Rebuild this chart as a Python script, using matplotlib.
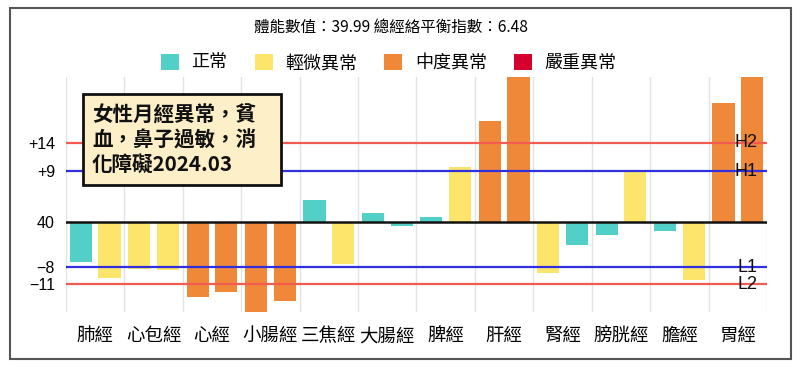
import numpy as np
import matplotlib
matplotlib.use("Agg")
import matplotlib.pyplot as plt
from matplotlib.patches import Patch, Rectangle

plt.rcParams['font.family'] = ['Noto Sans CJK TC', 'DejaVu Sans']
plt.rcParams['axes.unicode_minus'] = True

# 經絡名稱
meridians = ['肺經', '心包經', '心經', '小腸經', '三焦經', '大腸經',
             '脾經', '肝經', '腎經', '膀胱經', '膽經', '胃經']

# 左右兩組數值 (相對 40 的偏差)
left_vals = [-7.0, -8.3, -13.3, -16.5, 3.9, 1.6, 0.9, 17.9, -9.0, -2.3, -1.6, 21.1]
right_vals = [-9.9, -8.4, -12.3, -13.9, -7.4, -0.7, 9.7, 27.0, -4.0, 9.0, -10.3, 27.0]

# 狀態: 0 正常, 1 輕微異常, 2 中度異常, 3 嚴重異常
left_status = [0, 1, 2, 2, 0, 0, 0, 2, 1, 0, 0, 2]
right_status = [1, 1, 2, 2, 1, 0, 1, 2, 0, 1, 1, 2]

status_names = ['正常', '輕微異常', '中度異常', '嚴重異常']
status_colors = ['#52cfc6', '#fde56b', '#f0883a', '#d6002e']

# 參考線
ref_vals = [14, 9, -8, -11]
ref_names = ['H2', 'H1', 'L1', 'L2']
ref_colors = ['#f25b50', '#2f2fe0', '#2f2fe0', '#f25b50']

ytick_vals = [14, 9, 0, -8, -11]
ytick_labels = ['+14', '+9', '40', '\u22128', '\u221211']

title_text = '體能數值：39.99 總經絡平衡指數：6.48'
note_text = '女性月經異常，貧\n血，鼻子過敏，消\n化障礙2024.03'

latin = ['Liberation Sans', 'DejaVu Sans']

fig = plt.figure(figsize=(8, 3.69), dpi=100)
ax = fig.add_axes([66 / 800, 57 / 369, 701 / 800, 235 / 369])

x = np.arange(len(meridians))
w = 0.38
off = 0.245

# 分隔格線
for b in np.arange(len(meridians) + 1) - 0.5:
    ax.axvline(b, color='#e2e2e2', lw=1, zorder=0)

ax.bar(x - off, left_vals, width=w, color=[status_colors[s] for s in left_status], zorder=2)
ax.bar(x + off, right_vals, width=w, color=[status_colors[s] for s in right_status], zorder=2)

ax.axhline(0, color='#111111', lw=1.8, zorder=3)
for v, name, c in zip(ref_vals, ref_names, ref_colors):
    ax.axhline(v, color=c, lw=1.6, zorder=3)
    ax.text(11.34, v, name, ha='right', va='center', fontsize=13,
            family=latin, color='#111111', zorder=4)

ax.set_xlim(-0.5, 11.5)
ax.set_ylim(-15.9, 25.66)
ax.set_xticks(x)
ax.set_xticklabels(meridians, fontsize=13.3)
ax.set_yticks(ytick_vals)
ax.set_yticklabels(ytick_labels, fontsize=11.5, family=latin)
ax.tick_params(length=0)
ax.tick_params(axis='x', pad=11)
ax.tick_params(axis='y', pad=8)
for s in ax.spines.values():
    s.set_visible(False)

# 標題與圖例
fig.text(0.489, 1 - 27 / 369, title_text, ha='center', va='center', fontsize=11.2,
         family=['Noto Sans CJK TC', 'Liberation Sans'])
handles = [Patch(facecolor=c, edgecolor='none') for c in status_colors]
fig.legend(handles, status_names, loc='center', bbox_to_anchor=(0.486, 1 - 63 / 369),
           ncol=4, frameon=False, fontsize=13, handlelength=1.0, handleheight=1.0,
           handletextpad=0.7, columnspacing=1.5)

# 註記框
fig.patches.append(Rectangle((83 / 800, 1 - 185 / 369), 198 / 800, 91 / 369,
                             transform=fig.transFigure, facecolor='#fdf0c9',
                             edgecolor='#111111', lw=2, zorder=5))
fig.text(92 / 800, 1 - 140 / 369, note_text, ha='left', va='center', fontsize=14.8,
         fontweight='bold', linespacing=1.2, color='#111111', zorder=6)

# 外框
fig.patches.append(Rectangle((10 / 800, 10 / 369), 781 / 800, 351 / 369,
                             transform=fig.transFigure, facecolor='none',
                             edgecolor='#555555', lw=1.5))

fig.savefig('out.png', dpi=100)
